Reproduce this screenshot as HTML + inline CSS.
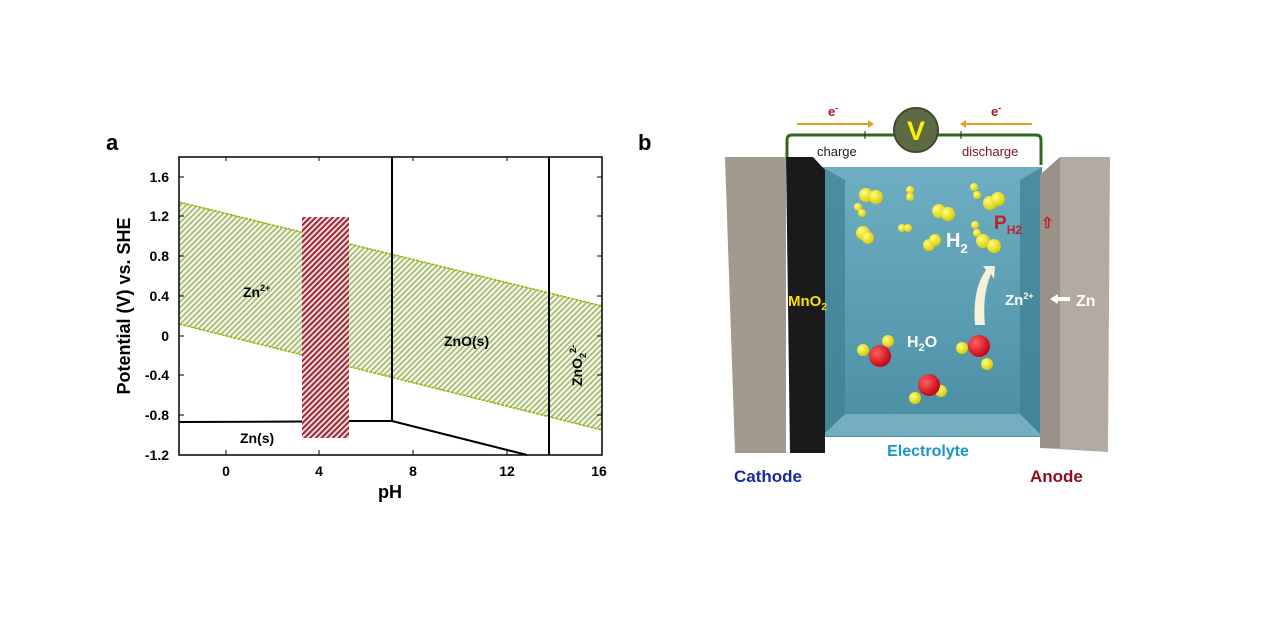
<!DOCTYPE html>
<html><head><meta charset="utf-8"><style>
html,body{margin:0;padding:0;background:#fff;width:1280px;height:635px;overflow:hidden}
svg{display:block}
text{font-family:"Liberation Sans",sans-serif;font-weight:bold}
</style></head><body>
<svg width="1280" height="635" viewBox="0 0 1280 635">
<defs>
<pattern id="g" width="4" height="4" patternUnits="userSpaceOnUse" patternTransform="rotate(45)">
<rect width="4" height="4" fill="#f1f5e4"/><rect width="1.3" height="4" fill="#92ae5a"/></pattern>
<pattern id="r" width="4" height="4" patternUnits="userSpaceOnUse" patternTransform="rotate(45)">
<rect width="4" height="4" fill="#f3dcdc"/><rect width="2" height="4" fill="#9b2a35"/></pattern>
<linearGradient id="el" x1="0" y1="0" x2="0" y2="1"><stop offset="0" stop-color="#6faec2"/><stop offset="1" stop-color="#4a8ea4"/></linearGradient>
<radialGradient id="y" cx=".35" cy=".35" r=".7"><stop offset="0" stop-color="#ffff80"/><stop offset="1" stop-color="#d8c800"/></radialGradient>
<radialGradient id="rd" cx=".35" cy=".35" r=".7"><stop offset="0" stop-color="#ff6060"/><stop offset="1" stop-color="#c00010"/></radialGradient>
</defs>
<text x="106" y="150" font-size="22">a</text>
<polygon points="179,202 602,306 602,430 179,324" fill="url(#g)"/>
<line x1="179" y1="202" x2="602" y2="306" stroke="#9ab000" stroke-width="1.5" stroke-dasharray="3,1"/>
<line x1="179" y1="324" x2="602" y2="430" stroke="#9ab000" stroke-width="1.5" stroke-dasharray="3,1"/>
<rect x="302" y="217" width="47" height="221" fill="url(#r)"/>
<rect x="179" y="157" width="423" height="298" fill="none" stroke="#000" stroke-width="1.5"/>
<polyline points="179,422 302,421.5" stroke="#000" stroke-width="2" fill="none"/>
<polyline points="349,421 392,421 527,455" stroke="#000" stroke-width="2" fill="none"/>
<line x1="392" y1="157" x2="392" y2="421" stroke="#000" stroke-width="2"/>
<line x1="549" y1="157" x2="549" y2="455" stroke="#000" stroke-width="2"/>
<g stroke="#000" stroke-width="1">
<line x1="226" y1="455" x2="226" y2="450"/><line x1="319" y1="455" x2="319" y2="450"/><line x1="413" y1="455" x2="413" y2="450"/><line x1="507" y1="455" x2="507" y2="450"/>
<line x1="226" y1="157" x2="226" y2="161"/><line x1="319" y1="157" x2="319" y2="161"/><line x1="413" y1="157" x2="413" y2="161"/><line x1="507" y1="157" x2="507" y2="161"/>
<line x1="179" y1="177" x2="184" y2="177"/><line x1="179" y1="216" x2="184" y2="216"/><line x1="179" y1="256" x2="184" y2="256"/><line x1="179" y1="296" x2="184" y2="296"/><line x1="179" y1="336" x2="184" y2="336"/><line x1="179" y1="375" x2="184" y2="375"/><line x1="179" y1="415" x2="184" y2="415"/>
<line x1="602" y1="177" x2="597" y2="177"/><line x1="602" y1="216" x2="597" y2="216"/><line x1="602" y1="256" x2="597" y2="256"/><line x1="602" y1="296" x2="597" y2="296"/><line x1="602" y1="336" x2="597" y2="336"/><line x1="602" y1="375" x2="597" y2="375"/><line x1="602" y1="415" x2="597" y2="415"/>
</g>
<g font-size="14" text-anchor="end">
<text x="169" y="182">1.6</text><text x="169" y="221">1.2</text><text x="169" y="261">0.8</text><text x="169" y="301">0.4</text><text x="169" y="341">0</text><text x="169" y="380">-0.4</text><text x="169" y="420">-0.8</text><text x="169" y="460">-1.2</text>
</g>
<g font-size="14" text-anchor="middle">
<text x="226" y="476">0</text><text x="319" y="476">4</text><text x="413" y="476">8</text><text x="507" y="476">12</text><text x="599" y="476">16</text>
</g>
<text x="390" y="498" font-size="18" text-anchor="middle">pH</text>
<text transform="translate(130,306) rotate(-90)" font-size="18" text-anchor="middle">Potential (V) vs. SHE</text>
<text x="243" y="297" font-size="14">Zn<tspan font-size="9" dy="-6">2+</tspan></text>
<text x="444" y="346" font-size="14">ZnO(s)</text>
<text x="240" y="443" font-size="14">Zn(s)</text>
<text transform="translate(582,386) rotate(-90)" font-size="14">ZnO<tspan font-size="9" dy="4">2</tspan><tspan font-size="9" dy="-10">2-</tspan></text>
<text x="638" y="150" font-size="22">b</text>
<path d="M787,157 V140 Q787,135 792,135 H1036 Q1041,135 1041,140 V165" fill="none" stroke="#2e6b1e" stroke-width="3"/>
<line x1="797" y1="124" x2="868" y2="124" stroke="#e0a020" stroke-width="2"/><polygon points="868,120 874,124 868,128" fill="#e0a020"/>
<line x1="966" y1="124" x2="1032" y2="124" stroke="#e0a020" stroke-width="2"/><polygon points="966,120 960,124 966,128" fill="#e0a020"/>
<text x="828" y="116" font-size="13" fill="#a01a1a">e<tspan font-size="9" dy="-5">-</tspan></text>
<text x="991" y="116" font-size="13" fill="#a01a1a">e<tspan font-size="9" dy="-5">-</tspan></text>
<line x1="865" y1="131" x2="865" y2="139" stroke="#222"/><line x1="961" y1="131" x2="961" y2="139" stroke="#222"/>
<circle cx="916" cy="130" r="22" fill="#5d6b45" stroke="#3f4a2e" stroke-width="2"/>
<text x="916" y="140" font-size="27" fill="#ffee00" text-anchor="middle">V</text>
<text x="817" y="156" font-size="13" fill="#222" style="font-weight:normal">charge</text>
<text x="962" y="156" font-size="13" fill="#7a1020" style="font-weight:normal">discharge</text>
<rect x="822" y="167" width="220" height="270" fill="url(#el)"/>
<polygon points="822,167 845,180 845,414 822,436" fill="#3f7f93" opacity=".7"/>
<polygon points="1042,167 1020,180 1020,414 1042,436" fill="#3f7f93" opacity=".7"/>
<polygon points="845,414 1020,414 1042,436 822,436" fill="#8fc3d2" opacity=".6"/>
<polygon points="725,157 786,157 786,453 735,453" fill="#a29a8f"/>
<polygon points="786,157 813,157 825,170 825,453 790,453" fill="#1a1a1a"/>
<polygon points="1040,175 1060,157 1110,157 1108,452 1040,448" fill="#b3aba1"/>
<polygon points="1040,175 1060,157 1060,448 1040,448" fill="#9a9288"/>
<g fill="url(#y)">
<circle cx="866" cy="195" r="7"/><circle cx="876" cy="197" r="7"/><circle cx="858" cy="207" r="4"/><circle cx="862" cy="213" r="4"/>
<circle cx="910" cy="190" r="4"/><circle cx="910" cy="197" r="4"/><circle cx="939" cy="211" r="7"/><circle cx="948" cy="214" r="7"/>
<circle cx="974" cy="187" r="4"/><circle cx="977" cy="195" r="4"/><circle cx="990" cy="203" r="7"/><circle cx="998" cy="199" r="7"/>
<circle cx="863" cy="233" r="7"/><circle cx="868" cy="238" r="6"/><circle cx="902" cy="228" r="4"/><circle cx="908" cy="228" r="4"/>
<circle cx="929" cy="245" r="6"/><circle cx="935" cy="240" r="6"/><circle cx="975" cy="225" r="4"/><circle cx="977" cy="233" r="4"/>
<circle cx="983" cy="241" r="7"/><circle cx="994" cy="246" r="7"/>
<circle cx="863" cy="350" r="6"/><circle cx="888" cy="341" r="6"/><circle cx="962" cy="348" r="6"/><circle cx="987" cy="364" r="6"/>
<circle cx="915" cy="398" r="6"/><circle cx="941" cy="391" r="6"/>
</g>
<g fill="url(#rd)"><circle cx="880" cy="356" r="11"/><circle cx="979" cy="346" r="11"/><circle cx="929" cy="385" r="11"/></g>
<path d="M975,325 Q972,290 986,270 L983,266 L995,266 L994,279 L991,274 Q982,295 985,325 Z" fill="#f5f0d8"/>
<text x="946" y="247" font-size="20" fill="#fff">H<tspan font-size="13" dy="6">2</tspan></text>
<text x="907" y="347" font-size="16" fill="#fff">H<tspan font-size="11" dy="4">2</tspan><tspan dy="-4">O</tspan></text>
<text x="994" y="229" font-size="19" fill="#c0202a">P<tspan font-size="12" dy="5">H2</tspan></text>
<text x="1041" y="228" font-size="15" fill="#c0202a">⇧</text>
<text x="788" y="306" font-size="15" fill="#ffe000">MnO<tspan font-size="10" dy="4">2</tspan></text>
<text x="1005" y="305" font-size="15" fill="#fff">Zn<tspan font-size="9" dy="-6">2+</tspan></text>
<polygon points="1050,299 1058,294 1058,297 1070,297 1070,301 1058,301 1058,304" fill="#fff"/>
<text x="1076" y="306" font-size="16" fill="#fff">Zn</text>
<text x="928" y="456" font-size="16" fill="#1a95c8" text-anchor="middle">Electrolyte</text>
<text x="734" y="482" font-size="17" fill="#1a2aa0">Cathode</text>
<text x="1030" y="482" font-size="17" fill="#8a1020">Anode</text>
</svg>
</body></html>
